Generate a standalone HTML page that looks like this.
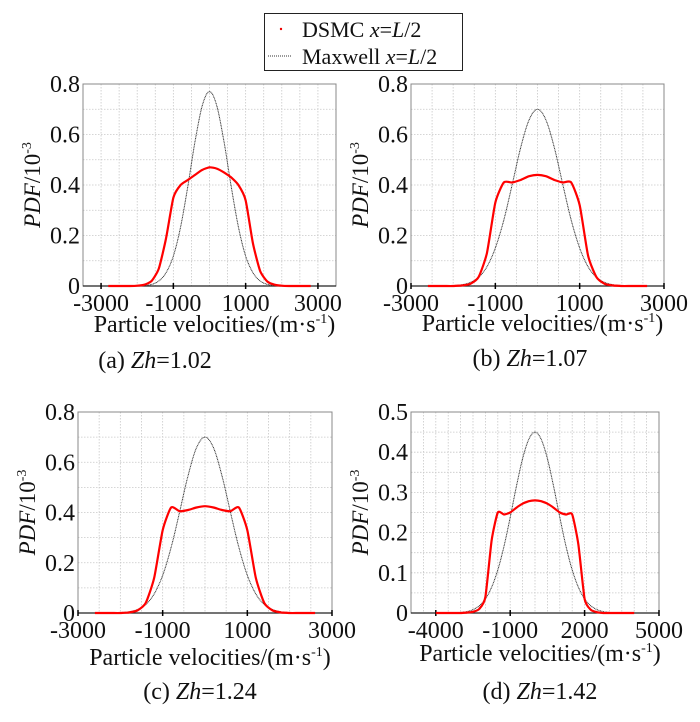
<!DOCTYPE html>
<html><head><meta charset="utf-8"><style>
body{margin:0;background:#fff;}
svg text{font-family:"Liberation Serif",serif;fill:#111;}
</style></head><body>
<svg id="fig" width="700" height="717" viewBox="0 0 700 717" xmlns="http://www.w3.org/2000/svg">
<g>
<rect x="264.5" y="13.5" width="198" height="57" fill="#fff" stroke="#222" stroke-width="1"/>
<circle cx="281" cy="29" r="1.2" fill="#e00"/>
<line x1="268" y1="56" x2="292" y2="56" stroke="#333" stroke-width="1" stroke-dasharray="1,1"/>
<text x="302" y="37" font-size="22">DSMC <tspan font-style="italic">x</tspan>=<tspan font-style="italic">L</tspan>/2</text>
<text x="302" y="64" font-size="22">Maxwell <tspan font-style="italic">x</tspan>=<tspan font-style="italic">L</tspan>/2</text>
</g>
</svg>
<script>
const velA=[-2800,-2600,-2400,-2200,-2000,-1800,-1600,-1400,-1200,-1000,-800,-600,-400,-200,0,200,400,600,800,1000,1200,1400,1600,1800,2000,2200,2400,2600,2800];
const dsmcA=[0,0,0,0,0.001,0.005,0.02,0.07,0.19,0.35,0.40,0.42,0.44,0.46,0.47,0.465,0.45,0.43,0.40,0.34,0.17,0.06,0.018,0.005,0.001,0,0,0,0];
const maxA=[0,0,0,0,0,0.0018,0.0065,0.020,0.053,0.119,0.234,0.394,0.572,0.715,0.77,0.715,0.572,0.394,0.234,0.119,0.053,0.020,0.0065,0.0018,0,0,0,0,0];
const velB=[-2600,-2400,-2200,-2000,-1800,-1600,-1400,-1200,-1000,-800,-600,-400,-200,0,200,400,600,800,1000,1200,1400,1600,1800,2000,2200,2400,2600];
const dsmcB=[0,0,0,0,0.002,0.008,0.035,0.13,0.33,0.41,0.41,0.42,0.435,0.44,0.435,0.42,0.41,0.41,0.32,0.12,0.035,0.008,0.002,0,0,0,0];
const maxB=[0,0,0,0.0015,0.0048,0.0136,0.034,0.076,0.150,0.261,0.402,0.547,0.658,0.70,0.658,0.547,0.402,0.261,0.150,0.076,0.034,0.0136,0.0048,0.0015,0,0,0];
const dsmcC=[0,0,0,0,0.002,0.01,0.04,0.14,0.33,0.42,0.405,0.41,0.42,0.425,0.42,0.41,0.405,0.42,0.33,0.14,0.04,0.01,0.002,0,0,0,0];
const maxC=maxB.slice();
const velD=[-4000,-3750,-3500,-3250,-3000,-2750,-2500,-2250,-2000,-1750,-1500,-1250,-1000,-750,-500,-250,0,250,500,750,1000,1250,1500,1750,2000,2250,2500,2750,3000,3250,3500,3750,4000];
const dsmcD=[0,0,0,0,0,0.001,0.003,0.01,0.04,0.18,0.25,0.245,0.25,0.262,0.272,0.278,0.28,0.278,0.272,0.262,0.25,0.245,0.245,0.17,0.035,0.008,0.002,0,0,0,0,0,0];
const maxD=[0,0,0,0.0005,0.0015,0.0036,0.0084,0.018,0.035,0.064,0.107,0.166,0.238,0.315,0.384,0.432,0.45,0.432,0.384,0.315,0.238,0.166,0.107,0.064,0.035,0.018,0.0084,0.0036,0.0015,0.0005,0,0,0];
const ticksAB=[-3000,-1000,1000,3000];
const ticksD=[-4000,-1000,2000,5000];
const yTicks8=[0,0.2,0.4,0.6,0.8];
const yTicks5=[0,0.1,0.2,0.3,0.4,0.5];

const NS="http://www.w3.org/2000/svg";
const svg=document.getElementById('fig');
function mk(tag,attrs,parent){const e=document.createElementNS(NS,tag);for(const k in attrs)e.setAttribute(k,attrs[k]);(parent||svg).appendChild(e);return e;}
function smooth(pts,f){
 let d='M'+pts[0][0].toFixed(1)+','+pts[0][1].toFixed(1);
 for(let i=0;i<pts.length-1;i++){
  const p0=pts[Math.max(0,i-1)],p1=pts[i],p2=pts[i+1],p3=pts[Math.min(pts.length-1,i+2)];
  const c1=[p1[0]+(p2[0]-p0[0])*f,p1[1]+(p2[1]-p0[1])*f],c2=[p2[0]-(p3[0]-p1[0])*f,p2[1]-(p3[1]-p1[1])*f];
  d+=` C${c1[0].toFixed(1)},${c1[1].toFixed(1)} ${c2[0].toFixed(1)},${c2[1].toFixed(1)} ${p2[0].toFixed(1)},${p2[1].toFixed(1)}`;
 }
 return d;
}

const panels=[
 {id:'a',x0:83,x1:336,y0:84,y1:286,xmin:-3500,xmax:3500,ymax:0.8,ystep:0.1,yt:yTicks8,xt:ticksAB,vel:velA,d:dsmcA,m:maxA,titleY:332,capY:368,capX:155,zh:'1.02',cap:'(a)  ',ytX:40},
 {id:'b',x0:411,x1:664,y0:84,y1:286,xmin:-3000,xmax:3000,ymax:0.8,ystep:0.1,yt:yTicks8,xt:ticksAB,vel:velB,d:dsmcB,m:maxB,titleY:331,capY:366,capX:530,zh:'1.07',cap:'(b)  ',ytX:368},
 {id:'c',x0:78,x1:332,y0:412,y1:613,xmin:-3000,xmax:3000,ymax:0.8,ystep:0.1,yt:yTicks8,xt:ticksAB,vel:velB,d:dsmcC,m:maxC,titleY:665,capY:699,capX:200,zh:'1.24',cap:'(c) ',ytX:35},
 {id:'d',x0:411,x1:659,y0:412,y1:613,xmin:-5000,xmax:5000,ymax:0.5,ystep:0.05,yt:yTicks5,xt:ticksD,vel:velD,d:dsmcD,m:maxD,titleY:661,capY:699,capX:540,zh:'1.42',cap:'(d) ',ytX:368}
];

panels.forEach(p=>{
 const g=mk('g',{});
 
 
 const X=v=>p.x0+(v-p.xmin)/(p.xmax-p.xmin)*(p.x1-p.x0);
 const Y=v=>p.y1-v/p.ymax*(p.y1-p.y0);
 for(let v=Math.ceil(p.xmin/500)*500;v<=p.xmax;v+=500){
  const l=mk('line',{x1:X(v),x2:X(v),y1:p.y0,y2:p.y1,stroke:'#c8c8c8','stroke-width':0.8,'stroke-dasharray':'1.5,1.5'},g);
  
  
 }
 for(let k=1;k*p.ystep<p.ymax-1e-9;k++){
  const v=k*p.ystep;
  const l=mk('line',{x1:p.x0,x2:p.x1,y1:Y(v),y2:Y(v),stroke:'#c8c8c8','stroke-width':0.8,'stroke-dasharray':'1.5,1.5'},g);
  
  
 }
 const fr=mk('rect',{x:p.x0,y:p.y0,width:p.x1-p.x0,height:p.y1-p.y0,fill:'none',stroke:'#888','stroke-width':1},g);
 
 
 const ax=mk('line',{x1:p.x0,x2:p.x1,y1:p.y1,y2:p.y1,stroke:'#222','stroke-width':1.2},g);
 
 
 p.xt.forEach(v=>{
  const t=mk('line',{x1:X(v),x2:X(v),y1:p.y1-3,y2:p.y1+3,stroke:'#000','stroke-width':1.5},g);
  
  
  const tl=mk('text',{x:X(v),y:p.y1+25,'font-size':24,'text-anchor':'middle'},g);
  tl.textContent=String(v);
  
  
 });
 p.yt.forEach(v=>{
  const tl=mk('text',{x:p.x0-3,y:Y(v)+8,'font-size':24,'text-anchor':'end'},g);
  tl.textContent=(v===0?'0':String(v));
  
  
 });
 const yt=mk('text',{x:0,y:0,'font-size':23,'text-anchor':'middle',transform:`translate(${p.ytX},${(p.y0+p.y1)/2}) rotate(-90)`},g);
 yt.innerHTML='<tspan font-style="italic">PDF</tspan>/10<tspan font-size="14" dy="-9">-3</tspan>';
 
 
 const xt=mk('text',{x:(p.x0+p.x1)/2+5,y:p.titleY,'font-size':24,'text-anchor':'middle'},g);
 xt.innerHTML='Particle velocities/(m·s<tspan font-size="14" dy="-9">-1</tspan><tspan dy="9">)</tspan>';
 
 
 const cp=mk('text',{x:p.capX,y:p.capY,'font-size':24,'text-anchor':'middle'},g);
 cp.innerHTML=p.cap+'<tspan font-style="italic">Zh</tspan>='+p.zh;
 
 
 const mpts=p.vel.map((v,i)=>[X(v),Y(p.m[i])]);
 const ml=mk('path',{d:smooth(mpts,1/6),fill:'none',stroke:'#333','stroke-width':1,'stroke-dasharray':'1,0.6'},g);
 
 
 const dpts=p.vel.map((v,i)=>[X(v),Y(p.d[i])]);
 const dl=mk('path',{d:smooth(dpts,1/10),fill:'none',stroke:'#f00','stroke-width':2.2,'stroke-linejoin':'round'},g);
 
 
});
</script>
</body></html>
